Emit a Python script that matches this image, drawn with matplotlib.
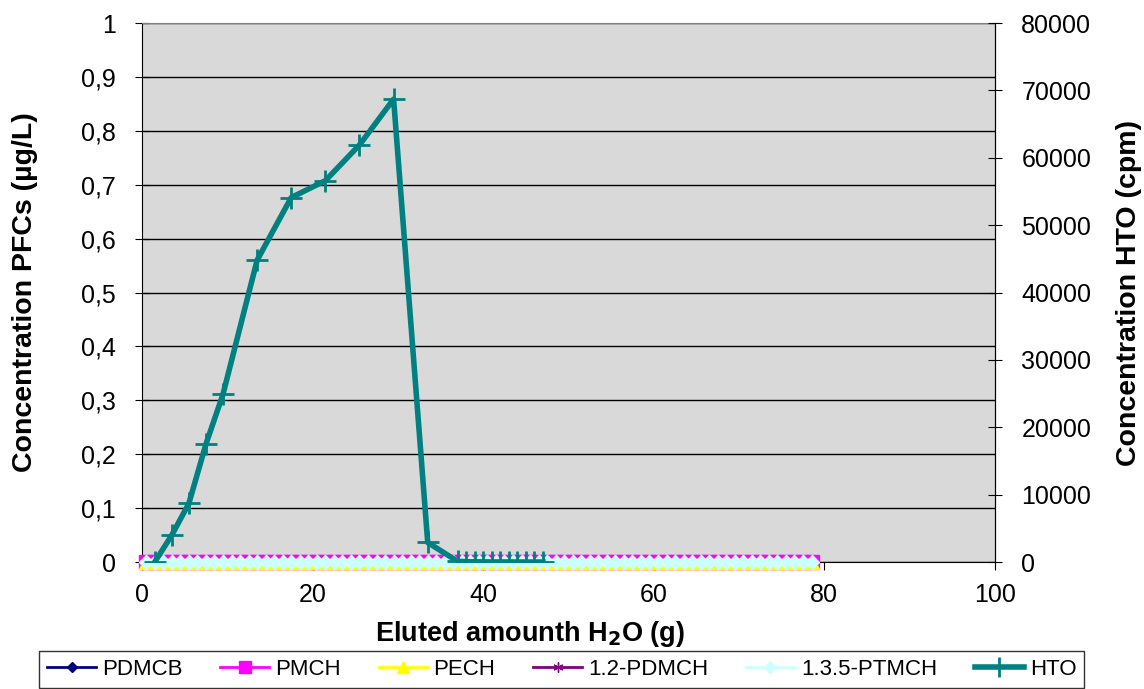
import numpy as np
import matplotlib.pyplot as plt
from matplotlib.ticker import FuncFormatter, MultipleLocator

plt.rcParams['font.family'] = ['Liberation Sans', 'DejaVu Sans']

# HTO elution curve (right axis, cpm)
hto_x = [1.5, 3.5, 5.5, 7.5, 9.5, 13.5, 17.5, 21.5, 25.5, 29.5, 33.5,
         37, 38, 39, 40, 41, 42, 43, 44, 45, 46, 47]
hto_y = [0, 4000, 8700, 17500, 24900, 44800, 54100, 56600, 61900, 68700, 2900,
         100, 50, 30, 20, 10, 10, 10, 0, 0, 0, 0]

# PFC samples (left axis, ug/L) - all below detection
pfc_x = [0.5, 1.5, 2.5, 3.5, 4.5, 5.5, 6.5, 7.5, 8.5, 9.5,
         10.5, 11.5, 12.5, 13.5, 14.5, 15.5, 16.5, 17.5, 18.5, 19.5,
         20.5, 21.5, 22.5, 23.5, 24.5, 25.5, 26.5, 27.5, 28.5, 29.5,
         30.5, 31.5, 32.5, 33.5, 34.5, 35.5, 36.5, 37.5, 38.5, 39.5,
         40.5, 41.5, 42.5, 43.5, 44.5, 45.5, 46.5, 47.5, 48.5, 49.5,
         50.5, 51.5, 52.5, 53.5, 54.5, 55.5, 56.5, 57.5, 58.5, 59.5,
         60.5, 61.5, 62.5, 63.5, 64.5, 65.5, 66.5, 67.5, 68.5, 69.5,
         70.5, 71.5, 72.5, 73.5, 74.5, 75.5, 76.5, 77.5, 78.5]
pdmcb = [0.0] * len(pfc_x)
pmch = [0.0] * len(pfc_x)
pech = [0.0] * len(pfc_x)
pdmch = [0.0] * len(pfc_x)
ptmch = [0.0] * len(pfc_x)

pfc_names = ['PDMCB', 'PMCH', 'PECH', '1.2-PDMCH', '1.3.5-PTMCH']
pfc_series = [pdmcb, pmch, pech, pdmch, ptmch]
pfc_colors = ['#000080', '#FF00FF', '#FFFF00', '#800080', '#CCFFFF']
pfc_markers = ['D', 's', '^', (6, 2, 0), 'D']
pfc_ms = [6, 9.5, 9.5, 8, 7.2]

fig = plt.figure(figsize=(11.44, 6.89), dpi=100)
ax = fig.add_axes([0.1241, 0.1843, 0.7456, 0.7823])
ax.set_facecolor('#D9D9D9')

for name, ys, c, m, ms in zip(pfc_names, pfc_series, pfc_colors, pfc_markers, pfc_ms):
    ax.plot(pfc_x, ys, color=c, lw=2, marker=m, ms=ms, mec=c, mfc=c,
            mew=1.0, label=name, clip_on=False, zorder=3)

ax.set_xlim(0, 100)
ax.set_ylim(0, 1)
ax.yaxis.set_major_locator(MultipleLocator(0.1))
ax.xaxis.set_major_locator(MultipleLocator(20))

def comma_fmt(v, pos):
    s = f'{v:.1f}'.rstrip('0').rstrip('.')
    return s.replace('.', ',')

ax.yaxis.set_major_formatter(FuncFormatter(comma_fmt))
ax.grid(axis='y', color='black', lw=1)
ax.set_axisbelow(True)
ax.tick_params(axis='y', direction='inout', length=10, labelsize=18, pad=14)
ax.tick_params(axis='x', direction='out', length=6, labelsize=18, pad=9)
for s in ['left', 'right', 'bottom']:
    ax.spines[s].set_color('black')
ax.spines['top'].set_color('#808080')
ax.set_ylabel('Concentration PFCs (µg/L)', fontsize=20.5, fontweight='bold')
ax.yaxis.set_label_coords(-0.122, 0.5)
ax.set_xlabel('Eluted amounth H$_\\mathbf{2}$O (g)', fontsize=19.5, fontweight='bold')
ax.xaxis.set_label_coords(0.455, -0.106)

ax2 = ax.twinx()
ax2.plot(hto_x, hto_y, color='#008080', lw=4, marker='+', ms=16, mew=2,
         label='HTO', zorder=5)
ax2.set_ylim(0, 80000)
ax2.yaxis.set_major_locator(MultipleLocator(10000))
ax2.tick_params(axis='y', direction='inout', length=10, labelsize=18, pad=14)
ax2.set_ylabel('Concentration HTO (cpm)', fontsize=20.5, fontweight='bold')
ax2.yaxis.set_label_coords(1.142, 0.5)
for s in ['bottom', 'top', 'left']:
    ax2.spines[s].set_visible(False)

h1, l1 = ax.get_legend_handles_labels()
h2, l2 = ax2.get_legend_handles_labels()
leg = fig.legend(h1 + h2, l1 + l2, loc='upper center', bbox_to_anchor=(0.491, 0.071),
                 ncol=6, frameon=True, fancybox=False, edgecolor='black',
                 prop={'family': ['Liberation Sans Narrow', 'Liberation Sans'], 'size': 16},
                 handlelength=2.2, columnspacing=1.7, handletextpad=0.27,
                 borderpad=0.35, markerscale=0.9)
leg.get_frame().set_linewidth(1)

fig.savefig('out.png', dpi=100)
